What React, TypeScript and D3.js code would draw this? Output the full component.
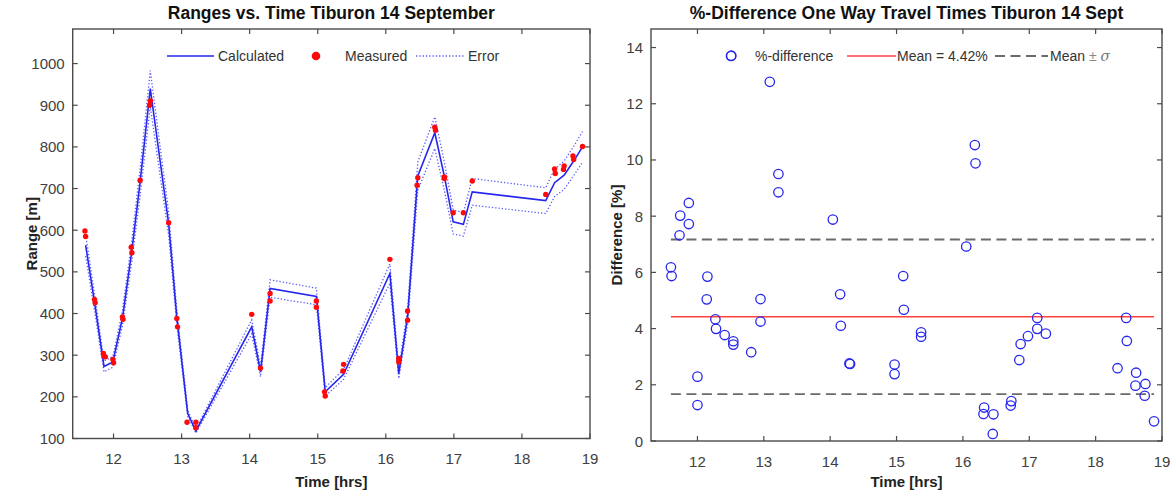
import React from "react";
import * as d3 from "d3";

// ---------- Left chart data ----------
const calcTime = [11.59, 11.72, 11.86, 11.99, 12.13, 12.27, 12.39, 12.54, 12.81, 12.93, 13.09, 13.21, 14.03, 14.16, 14.30, 14.98, 15.11, 15.38, 16.06, 16.19, 16.32, 16.47, 16.72, 16.86, 16.99, 17.14, 17.27, 18.35, 18.48, 18.62, 18.76, 18.89];
const calcRange = [564, 428, 273, 284, 388, 552, 715, 940, 615, 390, 160, 118, 368, 260, 460, 441, 212, 254, 496, 256, 392, 730, 834, 730, 620, 614, 692, 671, 714, 732, 766, 800];
const errUpper = [590, 448, 286, 297, 406, 577, 748, 983, 643, 408, 167, 123, 385, 272, 481, 461, 222, 266, 519, 268, 410, 764, 872, 764, 649, 642, 724, 702, 747, 766, 801, 837];
const errLower = [538, 408, 260, 271, 370, 527, 682, 897, 587, 372, 153, 113, 351, 248, 439, 421, 202, 242, 473, 244, 374, 696, 796, 696, 591, 586, 660, 640, 681, 698, 731, 763];

const measTime = [11.58, 11.59, 11.72, 11.73, 11.85, 11.86, 11.88, 11.99, 12.00, 12.13, 12.14, 12.26, 12.27, 12.39, 12.53, 12.54, 12.81, 12.93, 12.94, 13.08, 13.21, 13.21, 14.03, 14.16, 14.30, 14.30, 14.98, 14.98, 15.10, 15.11, 15.37, 15.38, 16.06, 16.19, 16.19, 16.32, 16.32, 16.46, 16.47, 16.72, 16.73, 16.86, 16.86, 16.99, 17.14, 17.27, 18.35, 18.48, 18.49, 18.61, 18.62, 18.75, 18.76, 18.89];
const measRange = [598, 585, 434, 426, 304, 298, 296, 290, 282, 392, 386, 559, 546, 720, 900, 910, 618, 388, 368, 139, 139, 126, 398, 269, 448, 430, 430, 415, 212, 202, 262, 278, 530, 292, 284, 406, 384, 708, 726, 847, 840, 728, 724, 642, 642, 718, 686, 747, 736, 746, 754, 778, 770, 801];

const leftXTicks = [12, 13, 14, 15, 16, 17, 18, 19];
const leftYTicks = [100, 200, 300, 400, 500, 600, 700, 800, 900, 1000];

// ---------- Right chart data ----------
const diffTime = [11.60, 11.61, 11.73, 11.74, 11.87, 11.87, 12.00, 12.00, 12.14, 12.15, 12.27, 12.28, 12.41, 12.51, 12.54, 12.54, 12.81, 12.95, 12.95, 13.09, 13.22, 13.22, 14.04, 14.15, 14.16, 14.29, 14.30, 14.97, 14.97, 15.10, 15.11, 15.37, 15.37, 16.05, 16.18, 16.19, 16.31, 16.32, 16.45, 16.46, 16.72, 16.73, 16.85, 16.87, 16.98, 17.12, 17.12, 17.25, 18.33, 18.46, 18.47, 18.60, 18.61, 18.74, 18.75, 18.88];
const diffPct = [6.18, 5.87, 7.32, 8.02, 8.47, 7.72, 2.29, 1.28, 5.04, 5.85, 4.33, 3.99, 3.77, 13.71, 3.55, 3.43, 3.16, 5.05, 4.25, 12.78, 9.50, 8.85, 7.88, 5.22, 4.10, 2.76, 2.74, 2.72, 2.38, 5.87, 4.67, 3.87, 3.71, 6.92, 10.53, 9.88, 0.96, 1.19, 0.25, 0.95, 1.26, 1.42, 2.88, 3.45, 3.73, 4.38, 3.99, 3.82, 2.59, 4.38, 3.56, 1.97, 2.43, 1.61, 2.03, 0.70];
const meanPct = 4.42;
const stdPct = 2.75;

const rightXTicks = [12, 13, 14, 15, 16, 17, 18, 19];
const rightYTicks = [0, 2, 4, 6, 8, 10, 12, 14];

const FONT = "'Liberation Sans', Arial, Helvetica, sans-serif";
const AXIS = "#4a4a4a";
const TICKTXT = "#404040";
const BLUE = "#2626ee";
const ERRBLUE = "#5a5aff";
const TICKFS = 15;
const LEGFS = 14;
const TITLEFS = 17.5;
const LABELFS = 15;

type Box = { l: number; r: number; t: number; b: number };

function Frame({ box, x, y, xTicks, yTicks }: { box: Box; x: d3.ScaleLinear<number, number>; y: d3.ScaleLinear<number, number>; xTicks: number[]; yTicks: number[] }) {
  const tl = 5;
  return (
    <g>
      <rect x={box.l} y={box.t} width={box.r - box.l} height={box.b - box.t} fill="none" stroke={AXIS} strokeWidth={1.4} />
      {xTicks.map((t) => (
        <g key={"x" + t}>
          <line x1={x(t)} x2={x(t)} y1={box.b} y2={box.b - tl} stroke={AXIS} strokeWidth={1.2} />
          <line x1={x(t)} x2={x(t)} y1={box.t} y2={box.t + tl} stroke={AXIS} strokeWidth={1.2} />
          <text x={x(t)} y={box.b + 25.5} textAnchor="middle" fontSize={TICKFS} fill={TICKTXT} fontFamily={FONT}>{t}</text>
        </g>
      ))}
      {yTicks.map((t) => (
        <g key={"y" + t}>
          <line x1={box.l} x2={box.l + tl} y1={y(t)} y2={y(t)} stroke={AXIS} strokeWidth={1.2} />
          <line x1={box.r} x2={box.r - tl} y1={y(t)} y2={y(t)} stroke={AXIS} strokeWidth={1.2} />
          <text x={box.l - 8} y={y(t) + 5.5} textAnchor="end" fontSize={TICKFS} fill={TICKTXT} fontFamily={FONT}>{t}</text>
        </g>
      ))}
    </g>
  );
}

function LeftChart() {
  const box: Box = { l: 72.7, r: 590, t: 29, b: 438.5 };
  const x = d3.scaleLinear().domain([11.4, 19]).range([box.l, box.r]);
  const y = d3.scaleLinear().domain([100, 1083]).range([box.b, box.t]);
  const line = d3.line<number>().x((_, i) => x(calcTime[i])).y((d) => y(d));
  const cx = (box.l + box.r) / 2;
  const ly = 56;
  return (
    <g>
      <Frame box={box} x={x} y={y} xTicks={leftXTicks} yTicks={leftYTicks} />
      <path d={line(errUpper) || ""} fill="none" stroke={ERRBLUE} strokeWidth={1.3} strokeDasharray="1.3 2" />
      <path d={line(errLower) || ""} fill="none" stroke={ERRBLUE} strokeWidth={1.3} strokeDasharray="1.3 2" />
      <path d={line(calcRange) || ""} fill="none" stroke={BLUE} strokeWidth={1.6} />
      {measTime.map((t, i) => (
        <circle key={i} cx={x(t)} cy={y(measRange[i])} r={2.7} fill="#ff0a0a" />
      ))}
      {/* legend */}
      <line x1={167} x2={214} y1={ly} y2={ly} stroke={BLUE} strokeWidth={1.6} />
      <text x={218} y={ly + 5} fontSize={LEGFS} fill="#333" fontFamily={FONT}>Calculated</text>
      <circle cx={316} cy={ly} r={4.3} fill="#ff0a0a" />
      <text x={345} y={ly + 5} fontSize={LEGFS} fill="#333" fontFamily={FONT}>Measured</text>
      <line x1={416} x2={465} y1={ly} y2={ly} stroke={ERRBLUE} strokeWidth={1.3} strokeDasharray="1.3 2" />
      <text x={468} y={ly + 5} fontSize={LEGFS} fill="#333" fontFamily={FONT}>Error</text>
      {/* titles */}
      <text x={cx} y={18.5} textAnchor="middle" fontSize={TITLEFS} fontWeight="bold" fill="#111" fontFamily={FONT}>Ranges vs. Time Tiburon 14 September</text>
      <text x={cx} y={487} textAnchor="middle" fontSize={LABELFS} fontWeight="bold" fill="#222" fontFamily={FONT}>Time [hrs]</text>
      <text transform={`translate(37,${(box.t + box.b) / 2}) rotate(-90)`} textAnchor="middle" fontSize={LABELFS} fontWeight="bold" fill="#222" fontFamily={FONT}>Range [m]</text>
    </g>
  );
}

function RightChart() {
  const box: Box = { l: 651, r: 1162, t: 29, b: 441 };
  const x = d3.scaleLinear().domain([11.3, 19]).range([box.l, box.r]);
  const y = d3.scaleLinear().domain([0, 14.66]).range([box.b, box.t]);
  const [x0, x1] = d3.extent(diffTime) as [number, number];
  const cx = (box.l + box.r) / 2;
  const ly = 56;
  return (
    <g>
      <Frame box={box} x={x} y={y} xTicks={rightXTicks} yTicks={rightYTicks} />
      <line x1={x(x0)} x2={x(x1)} y1={y(meanPct)} y2={y(meanPct)} stroke="#ff4040" strokeWidth={1.6} />
      <line x1={x(x0)} x2={x(x1)} y1={y(meanPct + stdPct)} y2={y(meanPct + stdPct)} stroke="#6a6a6a" strokeWidth={1.8} strokeDasharray="10 5.5" />
      <line x1={x(x0)} x2={x(x1)} y1={y(meanPct - stdPct)} y2={y(meanPct - stdPct)} stroke="#6a6a6a" strokeWidth={1.8} strokeDasharray="10 5.5" />
      {diffTime.map((t, i) => (
        <circle key={i} cx={x(t)} cy={y(diffPct[i])} r={4.7} fill="none" stroke={BLUE} strokeWidth={1.3} />
      ))}
      {/* legend */}
      <circle cx={731} cy={ly} r={4.7} fill="none" stroke={BLUE} strokeWidth={1.3} />
      <text x={755} y={ly + 5} fontSize={LEGFS} fill="#333" fontFamily={FONT}>%-difference</text>
      <line x1={847} x2={896} y1={ly} y2={ly} stroke="#ff4040" strokeWidth={1.6} />
      <text x={897} y={ly + 5} fontSize={LEGFS} fill="#333" fontFamily={FONT}>{`Mean = ${meanPct.toFixed(2)}%`}</text>
      <line x1={995} x2={1048} y1={ly} y2={ly} stroke="#6a6a6a" strokeWidth={1.8} strokeDasharray="10 5.5" />
      <text x={1050} y={ly + 5} fontSize={LEGFS} fill="#333" fontFamily={FONT}>
        Mean <tspan fill="#888">±</tspan> <tspan fill="#777" fontStyle="italic" fontFamily="'DejaVu Serif', serif">σ</tspan>
      </text>
      {/* titles */}
      <text x={cx} y={18.5} textAnchor="middle" fontSize={TITLEFS} fontWeight="bold" fill="#111" fontFamily={FONT}>%-Difference One Way Travel Times Tiburon 14 Sept</text>
      <text x={cx} y={487} textAnchor="middle" fontSize={LABELFS} fontWeight="bold" fill="#222" fontFamily={FONT}>Time [hrs]</text>
      <text transform={`translate(622,${(box.t + box.b) / 2}) rotate(-90)`} textAnchor="middle" fontSize={LABELFS} fontWeight="bold" fill="#222" fontFamily={FONT}>Difference [%]</text>
    </g>
  );
}

export default function App() {
  return (
    <svg width={1172} height={494} viewBox="0 0 1172 494" style={{ position: "absolute", left: 0, top: 0, background: "#fff" }}>
      <rect width={1172} height={494} fill="#fff" />
      <LeftChart />
      <RightChart />
    </svg>
  );
}
